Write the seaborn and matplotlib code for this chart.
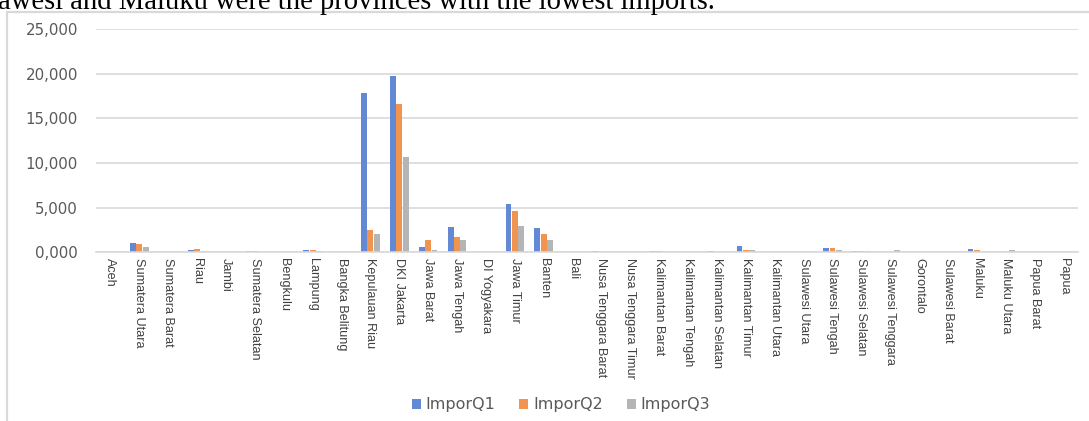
import matplotlib
matplotlib.use("Agg")
import matplotlib.pyplot as plt
from matplotlib.patches import Rectangle, Patch
from matplotlib.ticker import FuncFormatter
import seaborn as sns
import pandas as pd

provinces = [
    "Aceh", "Sumatera Utara", "Sumatera Barat", "Riau", "Jambi",
    "Sumatera Selatan", "Bengkulu", "Lampung", "Bangka Belitung",
    "Kepulauan Riau", "DKI Jakarta", "Jawa Barat", "Jawa Tengah",
    "DI Yogyakara", "Jawa Timur", "Banten", "Bali", "Nusa Tenggara Barat",
    "Nusa Tenggara Timur", "Kalimantan Barat", "Kalimantan Tengah",
    "Kalimantan Selatan", "Kalimantan Timur", "Kalimantan Utara",
    "Sulawesi Utara", "Sulawesi Tengah", "Sulawesi Selatan",
    "Sulawesi Tenggara", "Gorontalo", "Sulawesi Barat", "Maluku",
    "Maluku Utara", "Papua Barat", "Papua",
]
impor_q1 = [0, 1040, 0, 260, 0, 100, 0, 260, 0, 17800, 19700, 560, 2780,
            0, 5450, 2760, 0, 110, 0, 90, 0, 190, 670, 0, 0, 450, 190, 0,
            0, 0, 330, 0, 0, 0]
impor_q2 = [0, 900, 0, 330, 0, 120, 0, 260, 0, 2550, 16650, 1340, 1660,
            0, 4580, 2010, 0, 0, 0, 90, 0, 0, 300, 0, 0, 450, 100, 0,
            0, 0, 280, 0, 0, 0]
impor_q3 = [0, 640, 0, 190, 0, 80, 0, 180, 0, 2000, 10650, 300, 1340,
            0, 2900, 1420, 0, 0, 0, 0, 0, 0, 300, 0, 0, 300, 100, 220,
            0, 0, 0, 260, 0, 0]
series = ["ImporQ1", "ImporQ2", "ImporQ3"]
y_ticks = [0, 5000, 10000, 15000, 20000, 25000]

colors = ["#6389D4", "#F1944F", "#B5B5B5"]
grid_color = "#D9D9D9"
text_color = "#595959"

df = pd.DataFrame({
    "Provinsi": provinces * 3,
    "Nilai": impor_q1 + impor_q2 + impor_q3,
    "Seri": [s for s in series for _ in provinces],
})

sns.set_theme(style="white")
plt.rcParams["font.family"] = ["DejaVu Sans"]

W, H = 1089, 421
fig = plt.figure(figsize=(W / 100, H / 100), dpi=100)
ax = fig.add_axes([96 / W, 1 - 252.3 / H, 982 / W, (252.3 - 29) / H])

sns.barplot(data=df, x="Provinsi", y="Nilai", hue="Seri", order=provinces,
            hue_order=series, palette=colors, width=0.66, gap=0.08,
            saturation=1, edgecolor="none", ax=ax, legend=False)

ax.set_xlim(-0.5, len(provinces) - 0.5)
ax.set_ylim(0, 25000)
ax.set_yticks(y_ticks)
ax.yaxis.set_major_formatter(FuncFormatter(lambda v, _: f"{int(v) // 1000},{int(v) % 1000:03d}"))
ax.grid(axis="y", color=grid_color, linewidth=1.2)
ax.set_axisbelow(True)
for side in ("top", "right", "left"):
    ax.spines[side].set_visible(False)
ax.spines["bottom"].set_color(grid_color)
ax.spines["bottom"].set_linewidth(1.2)
ax.set_xlabel("")
ax.set_ylabel("")
ax.tick_params(axis="y", length=0, pad=13, labelsize=10.8, labelcolor=text_color)
ax.tick_params(axis="x", length=0, pad=4)
ax.set_xticks(range(len(provinces)))
ax.set_xticklabels(provinces, rotation=-90, ha="center", va="top",
                   fontsize=9.1, color="#404040", family=["Liberation Sans"])

# chart frame
fig.patches.append(Rectangle((7 / W, -0.1), 1.2, 1 - 11.5 / H + 0.1,
                             transform=fig.transFigure, fill=False,
                             edgecolor=grid_color, linewidth=1.6, zorder=0))

handles = [Patch(facecolor=c, edgecolor="none") for c in colors]
fig.legend(handles, series, loc="center", bbox_to_anchor=(561 / W, 1 - 405 / H),
           ncol=3, frameon=False, fontsize=11.5, handlelength=0.55,
           handleheight=0.55, handletextpad=0.3, columnspacing=1.5,
           labelcolor=text_color)

fig.text(-2 / W, 1 - 9 / H, "awesi and Maluku were the provinces with the lowest imports.",
         family="Liberation Serif", fontsize=20.6, color="black", ha="left",
         va="baseline")

fig.savefig("out.png", dpi=100)
